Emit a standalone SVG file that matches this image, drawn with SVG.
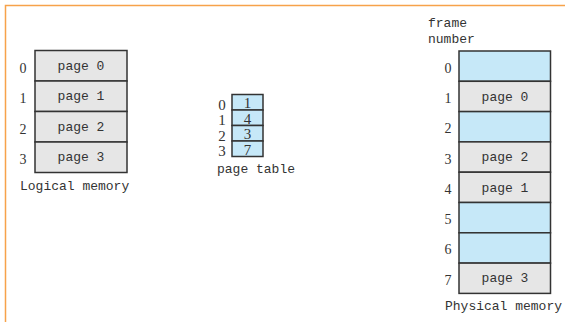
<svg xmlns="http://www.w3.org/2000/svg" width="565" height="322" viewBox="0 0 565 322">
<style>
text{font-family:"Liberation Mono","DejaVu Sans Mono",monospace;font-size:13px;fill:#333}
.n{font-family:"Liberation Serif","DejaVu Serif",serif;font-size:14px}
.g{fill:#e6e6e6;stroke:#333;stroke-width:1.5}
.b{fill:#c6e8f8;stroke:#333;stroke-width:1.5}
.c{text-anchor:middle}
.s{font-size:15px}
</style>
<rect width="565" height="322" fill="#fff"/>
<path d="M5.5 322V5.5H565" fill="none" stroke="#f7a24a" stroke-width="1.5"/>
<g id="logical-memory">
<rect class="g" x="35" y="50.5" width="92" height="30.5"/>
<rect class="g" x="35" y="81" width="92" height="30.5"/>
<rect class="g" x="35" y="111.5" width="92" height="30.5"/>
<rect class="g" x="35" y="142" width="92" height="30.5"/>
<text class="c" x="81" y="70">page 0</text>
<text class="c" x="81" y="100">page 1</text>
<text class="c" x="81" y="131">page 2</text>
<text class="c" x="81" y="161">page 3</text>
<text class="c n" x="23" y="73">0</text>
<text class="c n" x="23" y="103">1</text>
<text class="c n" x="23" y="134">2</text>
<text class="c n" x="23" y="164">3</text>
<text x="20" y="190">Logical memory</text>
</g>
<g id="page-table">
<rect class="b" x="232" y="94.5" width="31" height="15.5"/>
<rect class="b" x="232" y="110" width="31" height="15.5"/>
<rect class="b" x="232" y="125.5" width="31" height="15.5"/>
<rect class="b" x="232" y="141" width="31" height="15.5"/>
<text class="c n s" x="247.5" y="108">1</text>
<text class="c n s" x="247.5" y="123.5">4</text>
<text class="c n s" x="247.5" y="139">3</text>
<text class="c n s" x="247.5" y="154.5">7</text>
<text class="c n s" x="222" y="109.5">0</text>
<text class="c n s" x="222" y="125">1</text>
<text class="c n s" x="222" y="140.5">2</text>
<text class="c n s" x="222" y="156">3</text>
<text x="217" y="173">page table</text>
</g>
<g id="physical-memory">
<rect class="b" x="459" y="51" width="91.5" height="30.3"/>
<rect class="g" x="459" y="81.3" width="91.5" height="30.3"/>
<rect class="b" x="459" y="111.6" width="91.5" height="30.3"/>
<rect class="g" x="459" y="141.9" width="91.5" height="30.3"/>
<rect class="g" x="459" y="172.2" width="91.5" height="30.3"/>
<rect class="b" x="459" y="202.5" width="91.5" height="30.3"/>
<rect class="b" x="459" y="232.8" width="91.5" height="30.3"/>
<rect class="g" x="459" y="263.1" width="91.5" height="30.3"/>
<text class="c" x="505" y="101">page 0</text>
<text class="c" x="505" y="161">page 2</text>
<text class="c" x="505" y="192">page 1</text>
<text class="c" x="505" y="282">page 3</text>
<text class="c n" x="448" y="73">0</text>
<text class="c n" x="448" y="103">1</text>
<text class="c n" x="448" y="133">2</text>
<text class="c n" x="448" y="164">3</text>
<text class="c n" x="448" y="194">4</text>
<text class="c n" x="448" y="224">5</text>
<text class="c n" x="448" y="254">6</text>
<text class="c n" x="448" y="285">7</text>
<text x="428" y="27">frame</text>
<text x="428" y="43">number</text>
<text x="445" y="310">Physical memory</text>
</g>
</svg>
